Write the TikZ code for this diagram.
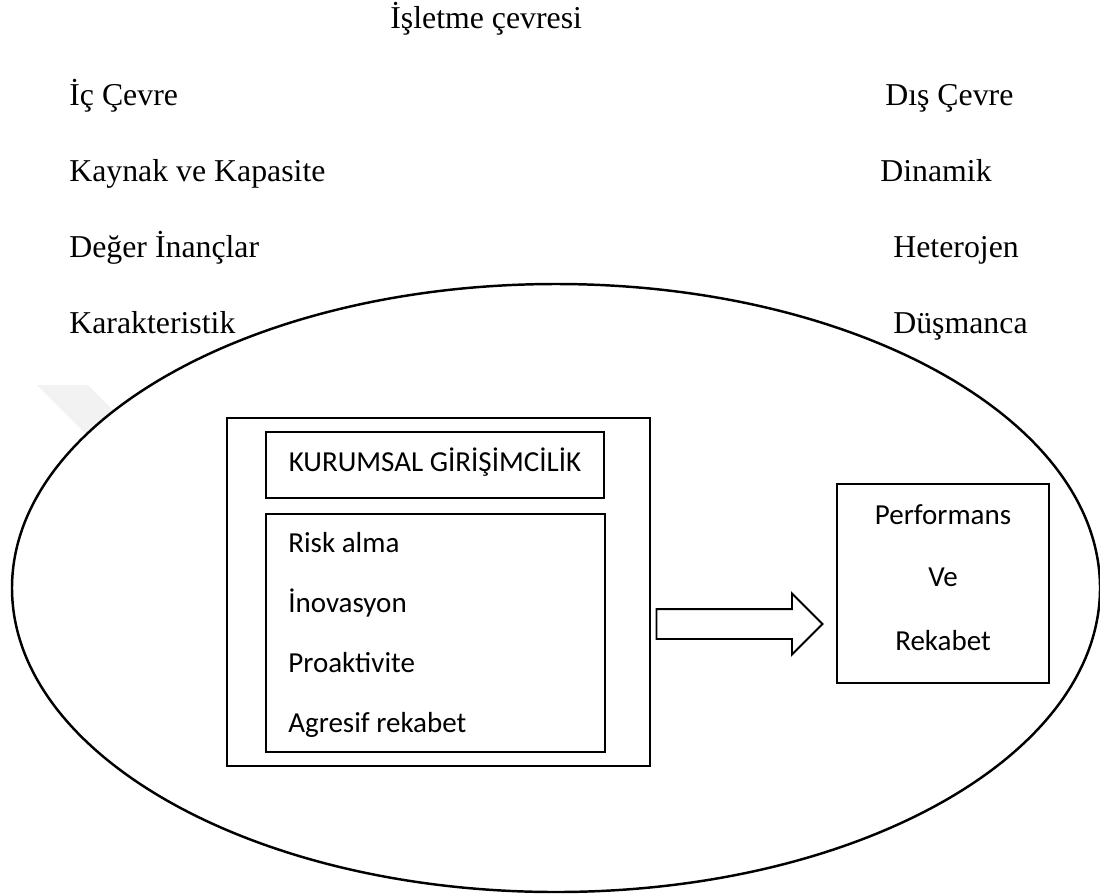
\documentclass[tikz,border=0pt]{standalone}
\usepackage{fontspec}
\setmainfont{Liberation Serif}
\newfontfamily\calibri{Carlito}
\usetikzlibrary{shapes.arrows}

\begin{document}
\begin{tikzpicture}[x=0.2mm, y=-0.2mm,
  cevre/.style={anchor=base west, inner sep=0pt, font=\fontsize{18.1}{21}\selectfont},
  madde/.style={anchor=base west, inner sep=0pt, font=\calibri\fontsize{16.5}{19}\selectfont},
  orta/.style={anchor=base, inner sep=0pt, font=\calibri\fontsize{16.5}{19}\selectfont},
  kutu/.style={draw, line width=1.1pt, inner sep=0pt}]
  \useasboundingbox (0,0) rectangle (1100,894);
  \fill[black!5] (37,385) -- (88,385) -- (140,437) -- (89,437) -- cycle;
  \draw[line width=1.4pt, fill=white] (556,588) ellipse (544 and 304);

  \node[cevre] (baslik) at (390,28) {İşletme çevresi};
  \node[cevre] (ic) at (69,105) {İç Çevre};
  \node[cevre] (kaynak) at (69,181) {Kaynak ve Kapasite};
  \node[cevre] (deger) at (69,257) {Değer İnançlar};
  \node[cevre] (karakter) at (69,333) {Karakteristik};
  \node[cevre] (dis) at (885,105) {Dış Çevre};
  \node[cevre] (dinamik) at (880,181) {Dinamik};
  \node[cevre] (hetero) at (893,257) {Heterojen};
  \node[cevre] (dusman) at (893,333) {Düşmanca};

  \node[kutu, minimum width=84.6mm, minimum height=69.6mm] (cerceve) at (438.5,592) {};
  \node[draw, line width=0.6pt, inner sep=0pt, minimum width=67.6mm, minimum height=13.2mm] (kgkutu) at (435,465) {};
  \node[orta] (kg) at (435,471) {KURUMSAL GİRİŞİMCİLİK};
  \node[kutu, line width=1.3pt, minimum width=67.8mm, minimum height=47.6mm] (liste) at (435.5,633) {};
  \node[madde] (risk) at (288,552) {Risk alma};
  \node[madde] (inov) at (288,612) {İnovasyon};
  \node[madde] (proak) at (288,672) {Proaktivite};
  \node[madde] (agresif) at (288,732) {Agresif rekabet};

  \node[kutu, minimum width=42.4mm, minimum height=39.8mm] (perf) at (943,583.5) {};
  \node[orta] (p1) at (943,524) {Performans};
  \node[orta] (p2) at (943,586) {Ve};
  \node[orta] (p3) at (943,650) {Rekabet};

  \node[single arrow, draw, line width=1.1pt, inner xsep=0pt, inner ysep=2.8mm,
        single arrow head extend=3.1mm, minimum height=33.2mm] (ok) at (732,624) {};
\end{tikzpicture}
\end{document}
